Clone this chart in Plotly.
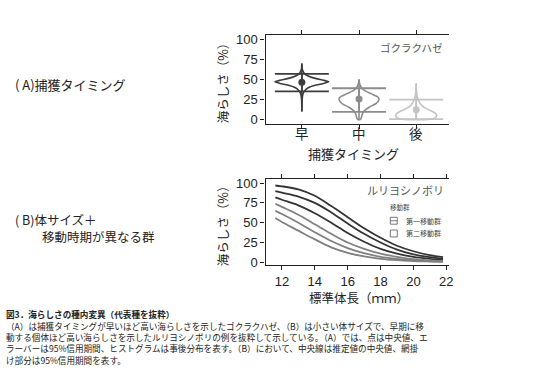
import plotly.graph_objects as go

W, H = 536, 375
FONT = "Liberation Sans, Arial, Noto Sans CJK JP, sans-serif"
JFONT = "Noto Sans CJK JP, sans-serif"

# ---------------- Panel A data ----------------
categories = ["早", "中", "後"]
cat_pos = [0, 1, 2]
medians = [46.5, 25.7, 12.2]
ci_low = [35.0, 9.5, 0.5]
ci_high = [57.0, 39.0, 24.8]
tail_low = [10.0, 0.0, 0.0]
tail_high = [70.0, 50.0, 45.0]
colors_a = ["#3c3c3c", "#8c8c8c", "#c3c3c3"]

early_vals = [10, 25, 32, 36, 40, 43, 45, 47, 49, 51, 54, 57, 62, 70]
early_hw = [0, 0.005, 0.02, 0.05, 0.12, 0.25, 0.38, 0.47, 0.38, 0.25, 0.12, 0.05, 0.01, 0]
mid_vals = [0, 2, 5, 10, 15, 20, 25, 28, 32, 36, 40, 45, 50]
mid_hw = [0.02, 0.04, 0.05, 0.08, 0.17, 0.30, 0.35, 0.33, 0.22, 0.10, 0.04, 0.01, 0]
late_vals = [0, 2, 5, 8, 12, 16, 20, 24, 28, 33, 38, 45]
late_hw = [0.20, 0.33, 0.36, 0.33, 0.22, 0.12, 0.07, 0.04, 0.02, 0.01, 0.003, 0]
profiles = [(early_vals, early_hw), (mid_vals, mid_hw), (late_vals, late_hw)]

# ---------------- Panel B data ----------------
length_x = [11.6, 12, 13, 14, 15, 16, 17, 18, 19, 20, 21, 21.8]
first_upper = [97, 96, 92, 84, 71, 57, 43, 31, 21, 14, 9, 6.5]
first_median = [90, 88, 83, 75, 63, 49, 36, 25, 16, 10, 6.5, 4.5]
first_lower = [82, 79, 72, 62, 50, 37, 26, 17, 11, 7, 4.5, 3]
second_upper = [74, 70, 60, 48, 36, 25, 17, 11, 7, 4, 2.5, 1.8]
second_median = [65, 61, 50, 38, 27, 18, 11.5, 7, 4.5, 2.7, 1.6, 1.1]
second_lower = [56, 51, 40, 29, 19, 12, 7.5, 4.5, 2.7, 1.6, 1.0, 0.6]
x_ticks_b = [12, 14, 16, 18, 20, 22]
y_ticks = [0, 25, 50, 75, 100]

fig = go.Figure()

# violins (outline)
for pos, (vals, hw), col in zip(cat_pos, profiles, colors_a):
    xs = [pos + w for w in hw] + [pos - w for w in hw[::-1]]
    ys = list(vals) + list(vals[::-1])
    xs.append(xs[0]); ys.append(ys[0])
    fig.add_trace(go.Scatter(x=xs, y=ys, mode="lines",
                             line=dict(color=col, width=1.6, shape="spline", smoothing=0.6),
                             hoverinfo="skip", showlegend=False, xaxis="x", yaxis="y"))
# tails
for pos, lo, hi, col in zip(cat_pos, tail_low, tail_high, colors_a):
    fig.add_trace(go.Scatter(x=[pos, pos], y=[lo, hi], mode="lines", line=dict(color=col, width=1.6),
                             hoverinfo="skip", showlegend=False, xaxis="x", yaxis="y"))
# medians with CI caps
for pos, m, lo, hi, col in zip(cat_pos, medians, ci_low, ci_high, colors_a):
    fig.add_trace(go.Scatter(x=[pos], y=[m], mode="markers", marker=dict(color=col, size=7),
                             error_y=dict(type="data", symmetric=False, array=[hi - m], arrayminus=[m - lo],
                                          color=col, thickness=1.8, width=27),
                             hoverinfo="skip", showlegend=False, xaxis="x", yaxis="y"))

# panel B lines
dark = "#333333"
grey = "#808080"
for ys, col in [(first_upper, dark), (first_median, dark), (first_lower, dark),
                (second_upper, grey), (second_median, grey), (second_lower, grey)]:
    fig.add_trace(go.Scatter(x=length_x, y=ys, mode="lines", line=dict(color=col, width=1.8, shape="spline"),
                             hoverinfo="skip", showlegend=False, xaxis="x2", yaxis="y2"))

ax_common = dict(showline=True, linecolor="#222", linewidth=1.3, ticks="outside", ticklen=4,
                 tickcolor="#222", tickwidth=1.2, showgrid=False, zeroline=False,
                 tickfont=dict(family=FONT, size=13, color="#222"))

x0, x1 = 268 / W, 453 / W
fig.update_layout(
    width=W, height=H, margin=dict(l=0, r=0, t=0, b=0),
    paper_bgcolor="white", plot_bgcolor="white", showlegend=False,
    xaxis=dict(domain=[x0, x1], range=[-0.636, 2.57], tickvals=cat_pos, showticklabels=False,
               mirror="ticks", anchor="y", **ax_common),
    yaxis=dict(domain=[1 - 123.7 / H, 1 - 33 / H], range=[-5.7, 105.1], tickvals=y_ticks, anchor="x", **ax_common),
    xaxis2=dict(domain=[x0, x1], range=[11.0, 22.15], tickvals=x_ticks_b, mirror="ticks", anchor="y2", **ax_common),
    yaxis2=dict(domain=[1 - 268 / H, 1 - 180 / H], range=[-3.7, 105], tickvals=y_ticks, anchor="x2", **ax_common),
)

def ann(text, x, y, size, color="#222", xanchor="left", angle=0, family=JFONT, yanchor="middle"):
    fig.add_annotation(text=text, x=x / W, y=1 - y / H, xref="paper", yref="paper", showarrow=False,
                       xanchor=xanchor, yanchor=yanchor, textangle=angle, align="left",
                       font=dict(family=family, size=size, color=color))

# category labels (placed on the data scale of the x axis)
for pos, c in zip(cat_pos, categories):
    fig.add_annotation(text=c, x=pos, y=1 - 133 / H, xref="x", yref="paper", showarrow=False,
                       yanchor="middle", font=dict(family=JFONT, size=13.5, color="#222"))

# axis titles
ann("捕獲タイミング", 357, 154, 13, xanchor="center")
ann("標準体長（ｍｍ）", 362, 301, 12.5, xanchor="center")
ann("海らしさ（%）", 224, 78, 12.5, xanchor="center", angle=-90)
ann("海らしさ（%）", 224, 224, 12.5, xanchor="center", angle=-90)

# in-panel labels
ann("ゴクラクハゼ", 382, 45, 10.5, color="#555")
ann("ルリヨシノボリ", 368, 191, 11, color="#555")
ann("移動群", 392, 208, 6.5, color="#444")
ann("第一移動群", 408, 222.5, 7, color="#444")
ann("第二移動群", 408, 235.5, 7, color="#444")
fig.add_shape(type="rect", xref="paper", yref="paper", x0=394 / W, x1=401 / W, y0=1 - 226 / H, y1=1 - 219 / H,
              line=dict(color="#555", width=0.8))
fig.add_shape(type="line", xref="paper", yref="paper", x0=394 / W, x1=401 / W, y0=1 - 222.5 / H, y1=1 - 222.5 / H,
              line=dict(color="#555", width=0.8))
fig.add_shape(type="rect", xref="paper", yref="paper", x0=394 / W, x1=401 / W, y0=1 - 239 / H, y1=1 - 232 / H,
              line=dict(color="#555", width=0.8))

# side labels
ann("( A)捕獲タイミング", 13, 83, 13)
ann("( B)体サイズ＋", 13, 221.5, 12.5)
ann("移動時期が異なる群", 40, 239, 12.5)

# caption
caption_title = "<b>図3．海らしさの種内変異（代表種を抜粋）</b>"
cap_lines = [
    "（A）は捕獲タイミングが早いほど高い海らしさを示したゴクラクハゼ、（B）は小さい体サイズで、早期に移",
    "動する個体ほど高い海らしさを示したルリヨシノボリの例を抜粋して示している。（A）では、点は中央値、エ",
    "ラーバーは95%信用期間、ヒストグラムは事後分布を表す。（B）において、中央線は推定値の中央値、網掛",
    "け部分は95%信用期間を表す。",
]
ann(caption_title, 4, 318, 8.6)
for i, t in enumerate(cap_lines):
    ann(t, 4, 329.8 + 11.6 * i, 8.6)

fig.write_html("out.html", config={"displayModeBar": False},
               post_script="document.body.style.margin='0';document.body.style.overflow='hidden';")
